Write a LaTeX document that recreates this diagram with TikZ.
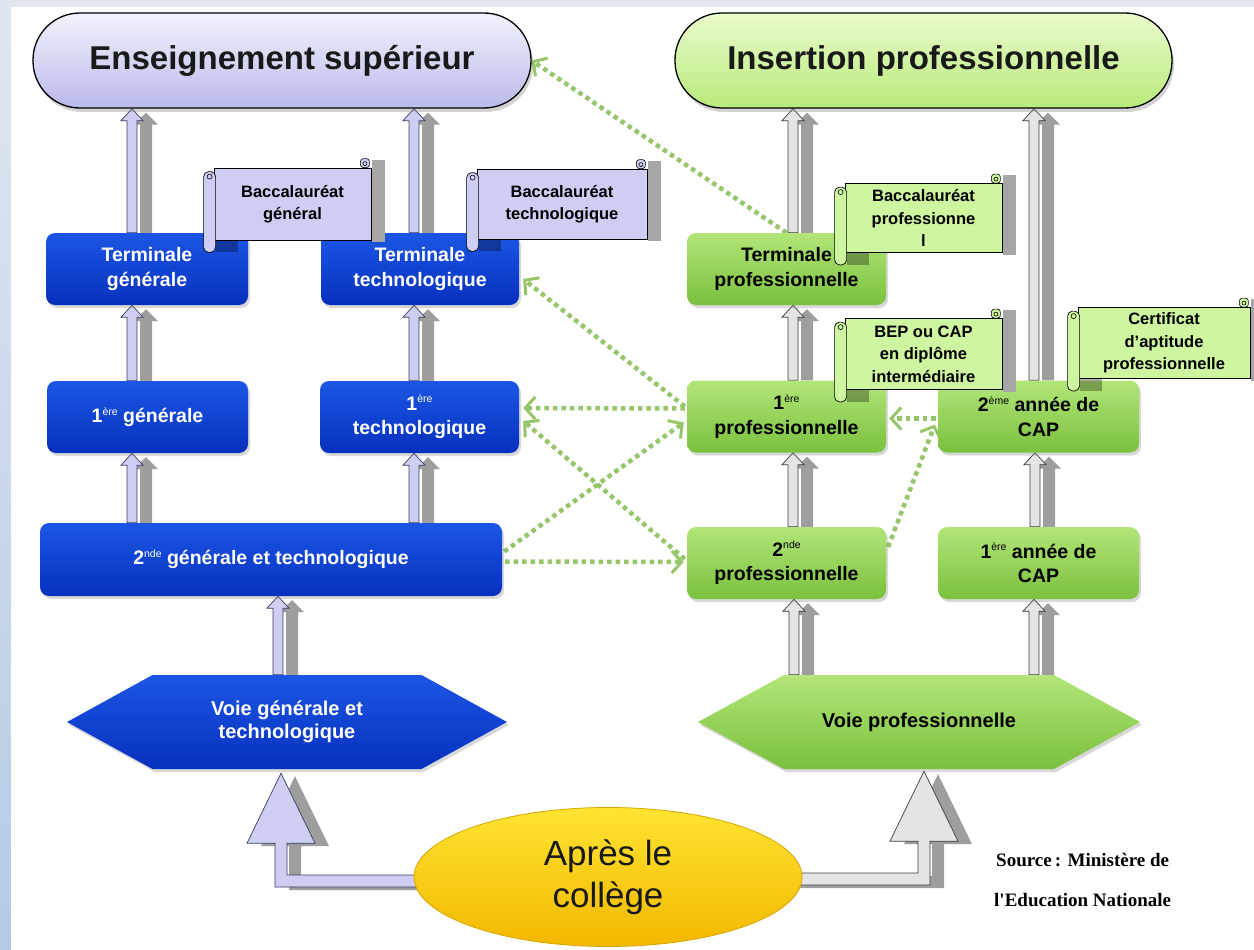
\documentclass[tikz,border=0pt]{standalone}
\usepackage{fontspec}
\setmainfont{Liberation Sans}
\newfontfamily\srcfont{Liberation Serif}
\usetikzlibrary{calc,shapes.geometric,shadows,arrows.meta}
\pgfdeclarelayer{back}
\pgfdeclarelayer{background}
\pgfdeclarelayer{fore}
\pgfsetlayers{back,background,main,fore}

\definecolor{bgtop}{RGB}{224,231,241}
\definecolor{bgbot}{RGB}{182,202,230}
\definecolor{bluetop}{RGB}{28,86,228}
\definecolor{bluebot}{RGB}{6,48,190}
\definecolor{greentop}{RGB}{178,230,120}
\definecolor{greenbot}{RGB}{122,192,62}
\definecolor{lavtop}{RGB}{242,242,252}
\definecolor{lavbot}{RGB}{186,186,236}
\definecolor{instop}{RGB}{234,252,204}
\definecolor{insbot}{RGB}{184,234,122}
\definecolor{yeltop}{RGB}{255,228,50}
\definecolor{yelbot}{RGB}{242,184,0}
\definecolor{yeledge}{RGB}{215,165,0}
\definecolor{scrolllav}{RGB}{206,206,245}
\definecolor{scrollgreen}{RGB}{206,246,160}
\definecolor{lavarrow}{RGB}{206,206,242}
\definecolor{greyarrow}{RGB}{228,228,228}
\definecolor{arrowshadow}{RGB}{158,158,158}
\definecolor{dotgreen}{RGB}{150,198,105}
\definecolor{titletext}{RGB}{25,25,25}

\newcommand\supx[1]{\raisebox{0.38em}{\fontsize{10.5}{10.5}\selectfont\mdseries #1}}

\tikzset{
  box/.style={rounded corners=9pt, minimum height=72pt, inner sep=0pt, align=center,
    font=\fontsize{19.5}{24.5}\selectfont\bfseries,
    drop shadow={shadow xshift=2pt,shadow yshift=-3pt,opacity=.3}},
  bluebox/.style={box, top color=bluetop, bottom color=bluebot, text=white},
  greenbox/.style={box, top color=greentop, bottom color=greenbot, text=black},
  titlebox/.style={rounded corners=47pt, minimum height=95pt, inner sep=0pt, draw=black,
    line width=1.3pt, text=titletext, font=\fontsize{33}{38}\selectfont\bfseries,
    drop shadow={shadow xshift=2pt,shadow yshift=-4pt,opacity=.35}},
  hextext/.style={minimum width=269pt, minimum height=94pt, inner sep=0pt, align=center,
    font=\fontsize{20}{23}\selectfont\bfseries},
  scrollbody/.style={draw=black, line width=.8pt, inner sep=0pt, align=center,
    font=\fontsize{16.5}{22.5}\selectfont\bfseries},
  lavarr/.style={fill=lavarrow, draw={rgb,255:red,60;green,60;blue,100}, line width=.7pt},
  greyarr/.style={fill=greyarrow, draw={rgb,255:red,60;green,60;blue,60}, line width=.7pt},
  dotarr/.style={draw=dotgreen, line width=4.5pt, dash pattern=on 4.5pt off 4pt,
    -{Straight Barb[length=10pt,width=22pt,line width=3pt]}},
  srcnode/.style={anchor=west, inner sep=0pt, font=\srcfont\fontsize{19}{22}\selectfont\bfseries}
}

% up block arrow with grey shadow: #1 x (px), #2 lower node, #3 upper node, #4 style
\newcommand\uparr[4]{%
  \coordinate (uax) at (#1,0);
  \coordinate (uab) at (uax|-#2.north);
  \coordinate (uat) at (uax|-#3.south);
  \coordinate (uabs) at ($(uab)+(14,0)$);
  \coordinate (uats) at ($(uat)+(14,4)$);
  \path[fill=arrowshadow] ($(uabs)+(-6,0)$) -- ($(uats)+(-6,12)$) -- ($(uats)+(-12,12)$) --
    (uats) -- ($(uats)+(12,12)$) -- ($(uats)+(6,12)$) -- ($(uabs)+(6,0)$) -- cycle;
  \path[#4] ($(uab)+(-5,0)$) -- ($(uat)+(-5,12)$) -- ($(uat)+(-11,12)$) --
    (uat) -- ($(uat)+(11,12)$) -- ($(uat)+(5,12)$) -- ($(uab)+(5,0)$) -- cycle;
}

% bent block arrow: #1 tip coordinate, #2 bar level coordinate, #3 bar end, #4 side, #5 style
\newcommand\bentarr[5]{%
  \path[#5] ($(#1|-#2)+(-6*#4,6)$) -- ($(#1)+(-6*#4,70)$) -- ($(#1)+(-34*#4,70)$) --
    (#1) -- ($(#1)+(34*#4,70)$) -- ($(#1)+(6*#4,70)$) -- ($(#1|-#2)+(6*#4,-6)$) --
    ($(#3|-#2)+(0,-6)$) -- ($(#3|-#2)+(0,6)$) -- cycle;
}

% scroll label: #1 name, #2 cx, #3 cy, #4 w, #5 h, #6 fill, #7 text
\newcommand\scrolllabel[7]{%
  \node[scrollbody, fill=#6, minimum width=#4pt, minimum height=#5pt] (#1) at (#2,#3) {#7};
  \fill[gray!70] ($(#1.north east)+(0.6,-8)$) rectangle ($(#1.south east)+(14,2)$);
  \fill[black,opacity=.3] ($(#1.south west)+(2,0)$) rectangle ($(#1.south west)+(24,12)$);
  \draw[fill=#6, rounded corners=5pt, line width=.7pt] ($(#1.north west)+(-10,4)$) rectangle ($(#1.south west)+(2,12)$);
  \draw[line width=.6pt] ($(#1.north west)+(-4,9)$) circle[radius=2.5pt];
  \draw[fill=#6, rounded corners=3pt, line width=.6pt] ($(#1.north east)+(-11,0)$) rectangle ($(#1.north east)+(-2,-9)$);
  \draw[line width=.6pt] ($(#1.north east)+(-6.5,-4)$) circle[radius=2pt];
}

\begin{document}
\begin{tikzpicture}[x=1pt,y=-1pt]
\useasboundingbox (0,0) rectangle (1254,950);
\begin{pgfonlayer}{back}
  \fill[top color=bgtop, bottom color=bgbot] (0,0) rectangle (1254,950);
  \fill[white] (11,7) rectangle (1254,950);
\end{pgfonlayer}

% titles
\node[titlebox, top color=lavtop, bottom color=lavbot, minimum width=498pt] (ens) at (282,60.5) {Enseignement supérieur};
\node[titlebox, top color=instop, bottom color=insbot, minimum width=497pt] (ins) at (923.5,60.5) {Insertion professionnelle};

% general / technological track
\node[bluebox, minimum width=202pt] (tgen) at (147,269) {Terminale\\générale};
\node[bluebox, minimum width=198pt] (ttech) at (420,269) {Terminale\\technologique};
\node[bluebox, minimum width=201pt] (gen1) at (147.5,417) {1\supx{ère} générale};
\node[bluebox, minimum width=199pt] (tech1) at (419.5,417) {1\supx{ère}\\technologique};
\node[bluebox, minimum width=462pt, minimum height=73pt] (gt2) at (271,559.5) {2\supx{nde} générale et technologique};

% professional track
\node[greenbox, minimum width=199pt] (tpro) at (786.5,269) {Terminale\\professionnelle};
\node[greenbox, minimum width=199pt] (p1) at (786.5,416.5) {1\supx{ère}\\professionnelle};
\node[greenbox, minimum width=199pt] (p2) at (786.5,563) {2\supx{nde}\\professionnelle};
\node[greenbox, minimum width=201pt] (cap2) at (1038.5,416.5) {2\supx{ème} année de\\CAP};
\node[greenbox, minimum width=201pt] (cap1) at (1038.5,563) {1\supx{ère} année de\\CAP};

% hexagons
\coordinate (vgtc) at (287,722);
\path[top color=bluetop, bottom color=bluebot, drop shadow={shadow xshift=2pt,shadow yshift=-3pt,opacity=.3}]
  ($(vgtc)+(-134.5,-47)$) -- ($(vgtc)+(134.5,-47)$) -- ($(vgtc)+(220,0)$) --
  ($(vgtc)+(134.5,47)$) -- ($(vgtc)+(-134.5,47)$) -- ($(vgtc)+(-220,0)$) -- cycle;
\node[hextext, text=white] (vgt) at (vgtc) {Voie générale et\\technologique};
\coordinate (vproc) at (919,722);
\path[top color=greentop, bottom color=greenbot, drop shadow={shadow xshift=2pt,shadow yshift=-3pt,opacity=.3}]
  ($(vproc)+(-135,-47)$) -- ($(vproc)+(135,-47)$) -- ($(vproc)+(221,0)$) --
  ($(vproc)+(135,47)$) -- ($(vproc)+(-135,47)$) -- ($(vproc)+(-221,0)$) -- cycle;
\node[hextext, text=black] (vpro) at (vproc) {Voie professionnelle};

% after middle school
\node[ellipse, minimum width=388pt, minimum height=139pt, inner sep=0pt, top color=yeltop,
  bottom color=yelbot, draw=yeledge, line width=.8pt, align=center,
  font=\fontsize{35}{42}\selectfont, text=titletext] (apres) at (608,877) {Après le\\collège};

% source
\node[srcnode] (src1) at (996,860) {Source\,: Ministère de};
\node[srcnode] (src2) at (994,900) {l'Education Nationale};

\begin{pgfonlayer}{background}
  % dotted passerelles
  \draw[dotarr] (tpro.north) -- (ens.east);
  \draw[dotarr] ($(p1.west)+(-2,-10)$) -- ($(ttech.east)+(4,10)$);
  \draw[dotarr] ($(p1.west)+(-2,-8)$) -- ($(tech1.east)+(4,-9)$);
  \draw[dotarr] ($(p2.west)+(-2,-4)$) -- ($(tech1.east)+(4,4)$);
  \draw[dotarr] ($(gt2.east)+(2,-8)$) -- ($(p1.west)+(-3,6)$);
  \draw[dotarr] ($(gt2.east)+(3,2)$) -- ($(p2.west)+(-3,-1)$);
  \draw[dotarr] ($(cap2.west)+(-2,2)$) -- ($(p1.east)+(3,2)$);
  \draw[dotarr] ($(p2.east)+(2,-16)$) -- ($(cap2.west)+(-3,8)$);

  % up arrows, general track
  \uparr{132}{tgen}{ens}{lavarr}
  \uparr{414}{ttech}{ens}{lavarr}
  \uparr{132}{gen1}{tgen}{lavarr}
  \uparr{414}{tech1}{ttech}{lavarr}
  \uparr{132}{gt2}{gen1}{lavarr}
  \uparr{414}{gt2}{tech1}{lavarr}
  \uparr{278}{vgt}{gt2}{lavarr}
  % up arrows, professional track
  \uparr{793}{tpro}{ins}{greyarr}
  \uparr{1034}{cap2}{ins}{greyarr}
  \uparr{793}{p1}{tpro}{greyarr}
  \uparr{793}{p2}{p1}{greyarr}
  \uparr{1035}{cap1}{cap2}{greyarr}
  \uparr{794}{vpro}{p2}{greyarr}
  \uparr{1034}{vpro}{cap1}{greyarr}

  % bent arrows from the ellipse
  \coordinate (lx) at ($(vgt.south)+(-6,4)$);
  \coordinate (ly) at ($(apres.center)+(0,4)$);
  \coordinate (lxs) at ($(lx)+(14,3)$);
  \coordinate (lys) at ($(ly)+(0,3)$);
  \coordinate (rx) at ($(vpro.south)+(5,2)$);
  \coordinate (ry) at ($(apres.center)+(0,2)$);
  \coordinate (rxs) at ($(rx)+(14,3)$);
  \coordinate (rys) at ($(ry)+(0,3)$);
  \bentarr{lxs}{lys}{apres}{1}{fill=arrowshadow}
  \bentarr{lx}{ly}{apres}{1}{lavarr}
  \bentarr{rxs}{rys}{apres}{-1}{fill=arrowshadow}
  \bentarr{rx}{ry}{apres}{-1}{greyarr}
\end{pgfonlayer}

\begin{pgfonlayer}{fore}
  \scrolllabel{bgen}{292.5}{204}{157}{72}{scrolllav}{Baccalauréat\\général}
  \scrolllabel{btech}{562}{204}{170}{70}{scrolllav}{Baccalauréat\\technologique}
  \scrolllabel{bpro}{923.5}{218}{157}{69}{scrollgreen}{Baccalauréat\\professionne\\l}
  \scrolllabel{bep}{923.5}{354}{157}{71}{scrollgreen}{BEP ou CAP\\en diplôme\\intermédiaire}
  \scrolllabel{cert}{1164}{343}{172}{71}{scrollgreen}{Certificat\\d’aptitude\\professionnelle}
\end{pgfonlayer}
\end{tikzpicture}
\end{document}
